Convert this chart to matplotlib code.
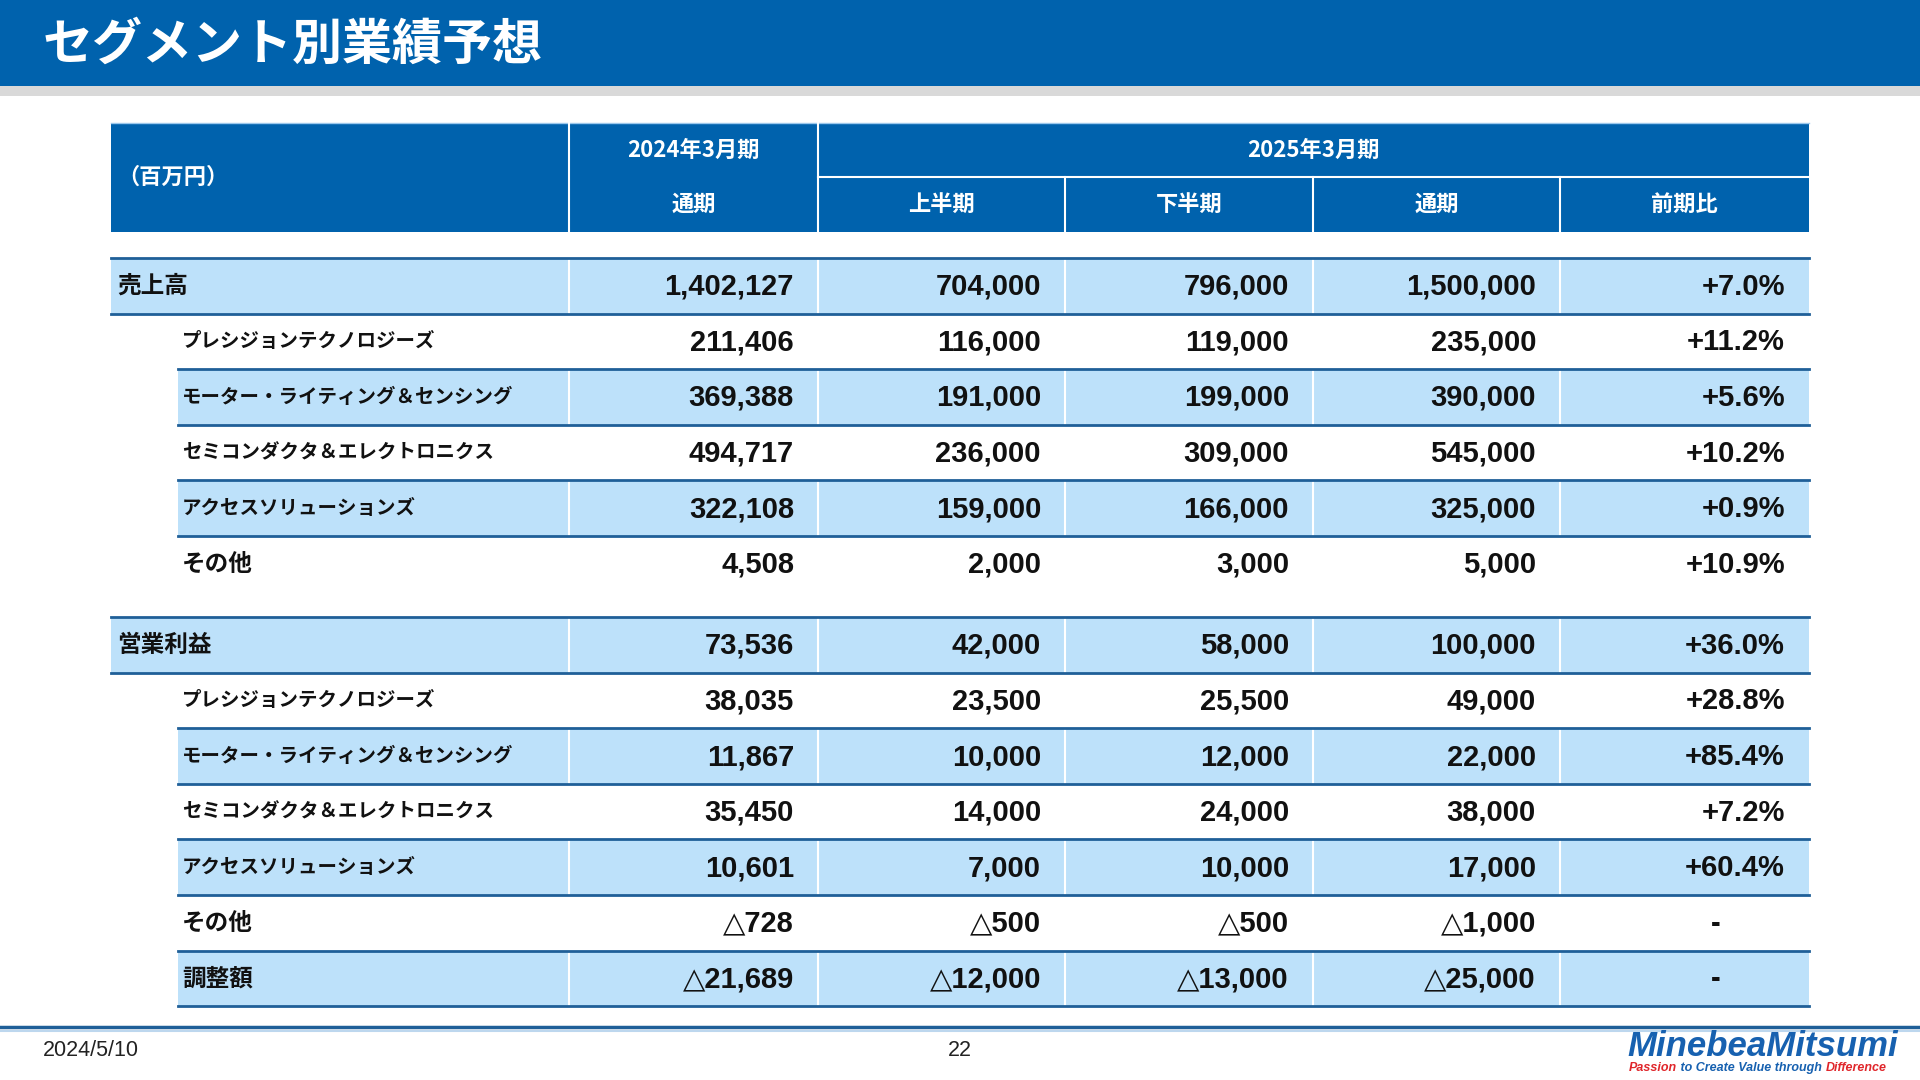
import matplotlib
matplotlib.use("Agg")
import matplotlib.pyplot as plt
from matplotlib.patches import Rectangle

plt.rcParams['font.family'] = ['Noto Sans CJK JP', 'DejaVu Sans']

# ---- data ----
title = 'セグメント別業績予想'
unit_label = '（百万円）'
year_prev = '2024年3月期'
year_next = '2025年3月期'
col_heads = ['通期', '上半期', '下半期', '通期', '前期比']

sales_labels = ['売上高', 'プレシジョンテクノロジーズ', 'モーター・ライティング＆センシング',
                'セミコンダクタ＆エレクトロニクス', 'アクセスソリューションズ', 'その他']
sales_fy24 = [1402127, 211406, 369388, 494717, 322108, 4508]
sales_h1 = [704000, 116000, 191000, 236000, 159000, 2000]
sales_h2 = [796000, 119000, 199000, 309000, 166000, 3000]
sales_fy25 = [1500000, 235000, 390000, 545000, 325000, 5000]
sales_yoy = [7.0, 11.2, 5.6, 10.2, 0.9, 10.9]

op_labels = ['営業利益', 'プレシジョンテクノロジーズ', 'モーター・ライティング＆センシング',
             'セミコンダクタ＆エレクトロニクス', 'アクセスソリューションズ', 'その他', '調整額']
op_fy24 = [73536, 38035, 11867, 35450, 10601, -728, -21689]
op_h1 = [42000, 23500, 10000, 14000, 7000, -500, -12000]
op_h2 = [58000, 25500, 12000, 24000, 10000, -500, -13000]
op_fy25 = [100000, 49000, 22000, 38000, 17000, -1000, -25000]
op_yoy = [36.0, 28.8, 85.4, 7.2, 60.4, None, None]

footer_date = '2024/5/10'
page_no = '22'

# ---- style ----
BLUE = '#0062AD'
LIGHT = '#BDE1FA'
LINE = '#1F5F98'
GRAY = '#D9D9D9'
NUM_FONT = ['Liberation Sans', 'DejaVu Sans', 'Noto Sans CJK JP']

col_x = [111, 569, 818, 1065, 1313, 1560, 1809]
sub_x = 178
row_h = 55.6
pad = 24


def fmt(v):
    if v < 0:
        return '△' + format(-v, ',')
    return format(v, ',')


def fmt_pct(p):
    return '-' if p is None else '+{:.1f}%'.format(p)


fig = plt.figure(figsize=(19.2, 10.8), dpi=100)
ax = fig.add_axes([0, 0, 1, 1])
ax.set_xlim(0, 1920)
ax.set_ylim(1080, 0)
ax.axis('off')

# title bar
ax.add_patch(Rectangle((0, 0), 1920, 86, color=BLUE, lw=0))
ax.add_patch(Rectangle((0, 86), 1920, 10, color=GRAY, lw=0))
ax.text(43, 45, title, color='white', fontsize=36, fontweight='bold', va='center', ha='left')

# header
h_top, h_mid, h_bot = 123, 177, 232
ax.add_patch(Rectangle((col_x[0], h_top), col_x[-1] - col_x[0], h_bot - h_top, color=BLUE, lw=0))
ax.plot([col_x[0], col_x[-1]], [h_top, h_top], color='#9CC8EC', lw=1)
for x in col_x[1:3]:
    ax.plot([x, x], [h_top, h_bot], color='white', lw=1.5)
for x in col_x[3:6]:
    ax.plot([x, x], [h_mid, h_bot], color='white', lw=1.5)
ax.plot([col_x[2], col_x[-1]], [h_mid, h_mid], color='white', lw=1.5)

hkw = dict(color='white', fontsize=16, fontweight='bold', va='center', ha='center')
ax.text(col_x[0] + 6, (h_top + h_bot) / 2, unit_label, **{**hkw, 'ha': 'left'})
ax.text((col_x[1] + col_x[2]) / 2, (h_top + h_mid) / 2, year_prev, **hkw)
ax.text((col_x[2] + col_x[-1]) / 2, (h_top + h_mid) / 2, year_next, **hkw)
for i, h in enumerate(col_heads):
    ax.text((col_x[i + 1] + col_x[i + 2]) / 2, (h_mid + h_bot) / 2, h, **hkw)


def label_size(s):
    kata = sum(1 for c in s if '\u30a0' <= c <= '\u30ff')
    return 14 if kata > 3 else 17


def draw_section(top, labels, cols, yoy, last_line):
    n = len(labels)
    for i in range(n):
        y0 = top + i * row_h
        x0 = col_x[0] if i == 0 else sub_x
        if i % 2 == 0:
            ax.add_patch(Rectangle((x0, y0), col_x[-1] - x0, row_h, color=LIGHT, lw=0))
            for x in col_x[1:-1]:
                ax.plot([x, x], [y0, y0 + row_h], color='white', lw=1.5)
        yc = y0 + row_h / 2
        lx = col_x[0] + 6 if i == 0 else sub_x + 4
        ax.text(lx, yc, labels[i], fontsize=label_size(labels[i]), fontweight='bold',
                color='#111111', va='center', ha='left')
        for j, vals in enumerate(cols):
            ax.text(col_x[j + 2] - pad, yc + 1, fmt(vals[i]), fontsize=21, fontweight='bold',
                    family=NUM_FONT, color='#111111', va='center', ha='right')
        p = fmt_pct(yoy[i])
        if yoy[i] is None:
            ax.text(col_x[-1] - 93, yc + 1, p, fontsize=21, fontweight='bold',
                    family=NUM_FONT, color='#111111', va='center', ha='center')
        else:
            ax.text(col_x[-1] - pad, yc + 1, p, fontsize=21, fontweight='bold',
                    family=NUM_FONT, color='#111111', va='center', ha='right')
    # horizontal rules
    ax.plot([col_x[0], col_x[-1]], [top, top], color=LINE, lw=2)
    for i in range(n):
        if i == n - 1 and not last_line:
            continue
        x0 = col_x[0] if i == 0 else sub_x
        y = top + (i + 1) * row_h
        ax.plot([x0, col_x[-1]], [y, y], color=LINE, lw=2)


draw_section(258, sales_labels, [sales_fy24, sales_h1, sales_h2, sales_fy25], sales_yoy, False)
draw_section(617, op_labels, [op_fy24, op_h1, op_h2, op_fy25], op_yoy, True)

# footer
ax.plot([0, 1920], [1027, 1027], color=LINE, lw=2.5)
ax.plot([0, 1920], [1030.5, 1030.5], color='#BDD7EE', lw=1.5)
ax.text(43, 1051, footer_date, fontsize=15.5, family=NUM_FONT, color='#222222', va='center', ha='left')
ax.text(960, 1051, page_no, fontsize=15.5, family=NUM_FONT, color='#222222', va='center', ha='center')

# logo
ax.text(1898, 1046, 'MinebeaMitsumi', fontsize=25, fontweight='bold', fontstyle='italic',
        family=NUM_FONT, color='#1761B0', va='center', ha='right')
tag_parts = [('Passion', '#E0262B'), (' to Create Value through ', '#1761B0'), ('Difference', '#E0262B')]
prev = ax.text(1629, 1068, tag_parts[0][0], fontsize=9, fontweight='bold', fontstyle='italic',
               family=NUM_FONT, color=tag_parts[0][1], va='center', ha='left')
for s, c in tag_parts[1:]:
    prev = ax.annotate(s, xy=(1, 0), xycoords=prev, va='bottom', ha='left', fontsize=9,
                       fontweight='bold', fontstyle='italic', family=NUM_FONT, color=c)

fig.savefig('out.png', dpi=100)
